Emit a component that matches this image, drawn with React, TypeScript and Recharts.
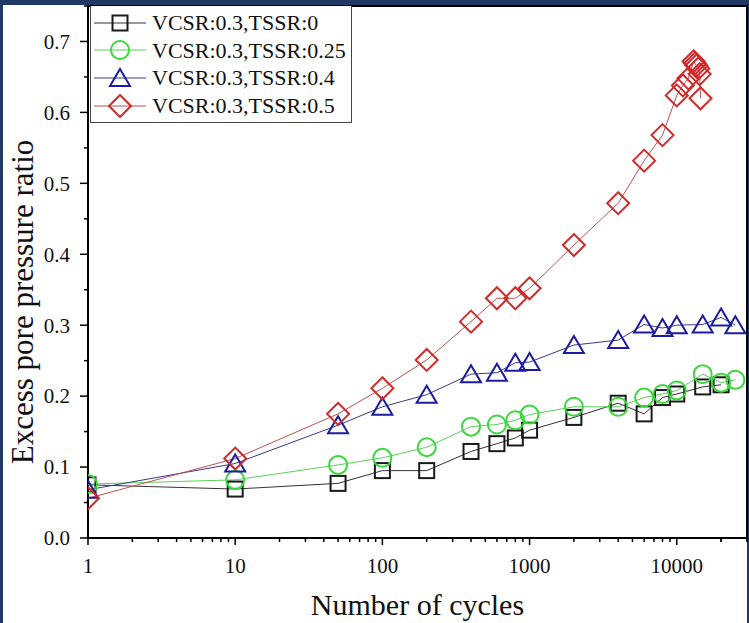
import { ComposedChart, Line, XAxis, YAxis, ReferenceArea } from "recharts"

// number of cycles / excess pore pressure ratio
const cyclesA = [1, 10, 50, 100, 200, 400, 600, 800, 1000, 2000, 4000, 6000, 8000, 10000, 15000, 20000]
const ratioA = [0.075, 0.069, 0.077, 0.095, 0.095, 0.122, 0.133, 0.141, 0.152, 0.17, 0.19, 0.175, 0.198, 0.203, 0.213, 0.216]

const cyclesB = [1, 10, 50, 100, 200, 400, 600, 800, 1000, 2000, 4000, 6000, 8000, 10000, 15000, 20000, 25000]
const ratioB = [0.076, 0.082, 0.103, 0.113, 0.128, 0.157, 0.16, 0.166, 0.174, 0.185, 0.185, 0.198, 0.203, 0.208, 0.231, 0.219, 0.223]

const cyclesC = [1, 10, 50, 100, 200, 400, 600, 800, 1000, 2000, 4000, 6000, 8000, 10000, 15000, 20000, 25000]
const ratioC = [0.068, 0.105, 0.159, 0.185, 0.202, 0.231, 0.233, 0.247, 0.248, 0.272, 0.279, 0.301, 0.296, 0.3, 0.301, 0.311, 0.3]

const cyclesD = [1, 10, 50, 100, 200, 400, 600, 800, 1000, 2000, 4000, 6000, 8000, 10000, 11000, 12000, 13000, 13300, 13600, 14000, 14300, 14500]
const ratioD = [0.056, 0.112, 0.175, 0.211, 0.251, 0.305, 0.338, 0.338, 0.352, 0.413, 0.472, 0.532, 0.568, 0.624, 0.638, 0.648, 0.672, 0.669, 0.666, 0.662, 0.654, 0.62]

const xMajor = [1, 10, 100, 1000, 10000]
const yMajor = [0, 0.1, 0.2, 0.3, 0.4, 0.5, 0.6, 0.7]
const yMinor = [0.05, 0.15, 0.25, 0.35, 0.45, 0.55, 0.65, 0.75]

const xTicks = xMajor.flatMap((d) => [1, 2, 3, 4, 5, 6, 7, 8, 9].map((k) => d * k)).concat([20000, 30000])
const yTicks = [...yMajor, ...yMinor].sort((a, b) => a - b)

const toRows = (cycles: number[], ratio: number[]) => cycles.map((n, i) => ({ n, r: ratio[i] }))

const FONT = "'Liberation Serif', 'Times New Roman', serif"

type Shape = "square" | "circle" | "triangle" | "diamond"

function Marker({ shape, cx, cy, color }: { shape: Shape; cx: number; cy: number; color: string }) {
  const common = { fill: "none", stroke: color, strokeWidth: 2 }
  if (shape === "square") return <rect x={cx - 7.5} y={cy - 7.5} width={15} height={15} {...common} />
  if (shape === "circle") return <circle cx={cx} cy={cy} r={9} {...common} />
  if (shape === "triangle")
    return <polygon points={`${cx},${cy - 9} ${cx + 10},${cy + 8} ${cx - 10},${cy + 8}`} {...common} />
  return <polygon points={`${cx},${cy - 11} ${cx + 11},${cy} ${cx},${cy + 11} ${cx - 11},${cy}`} {...common} />
}

const series = [
  { name: "VCSR:0.3,TSSR:0", data: toRows(cyclesA, ratioA), color: "#1a1a1a", line: "#333333", shape: "square" as Shape },
  { name: "VCSR:0.3,TSSR:0.25", data: toRows(cyclesB, ratioB), color: "#3ad83a", line: "#5ccf5c", shape: "circle" as Shape },
  { name: "VCSR:0.3,TSSR:0.4", data: toRows(cyclesC, ratioC), color: "#1c1ca0", line: "#3a3a8a", shape: "triangle" as Shape },
  { name: "VCSR:0.3,TSSR:0.5", data: toRows(cyclesD, ratioD), color: "#d02a2a", line: "#c05050", shape: "diamond" as Shape },
]

const XTick = (props: any) => {
  const { x, y, payload } = props
  const major = xMajor.includes(payload.value)
  return (
    <g>
      <line x1={x} x2={x} y1={y} y2={y + (major ? 7 : 4)} stroke="#000" strokeWidth={1.5} />
      {major && (
        <text x={x} y={y + 20} dy="0.71em" textAnchor="middle" fontFamily={FONT} fontSize={21} fill="#111">
          {payload.value}
        </text>
      )}
    </g>
  )
}

const YTick = (props: any) => {
  const { x, y, payload } = props
  const major = yMajor.some((v) => Math.abs(v - payload.value) < 1e-6)
  return (
    <g>
      <line x1={x} x2={x - (major ? 8 : 4)} y1={y} y2={y} stroke="#000" strokeWidth={1.5} />
      {major && (
        <text x={x - 18} y={y} dy="0.35em" textAnchor="end" fontFamily={FONT} fontSize={21} fill="#111">
          {payload.value.toFixed(1)}
        </text>
      )}
    </g>
  )
}

const XTitle = (props: any) => {
  const { x, y, width } = props.viewBox
  return (
    <text x={x + width / 2} y={y + 77} textAnchor="middle" fontFamily={FONT} fontSize={30} fill="#111">
      Number of cycles
    </text>
  )
}

const YTitle = (props: any) => {
  const { x, y, height } = props.viewBox
  const cx = x - 6
  const cy = y + height / 2 + 30
  return (
    <text x={cx} y={cy} transform={`rotate(-90 ${cx} ${cy})`} dy="0.35em" textAnchor="middle" fontFamily={FONT} fontSize={31} fill="#111">
      Excess pore pressure ratio
    </text>
  )
}

function LegendBox() {
  return (
    <div
      style={{
        position: "absolute",
        left: 90,
        top: 6,
        width: 262,
        height: 117,
        border: "1px solid #444",
        borderTop: "none",
        background: "#fff",
        fontFamily: FONT,
        fontSize: 22,
        color: "#111",
        boxSizing: "border-box",
        paddingTop: 3,
      }}
    >
      {series.map((s) => (
        <div key={s.name} style={{ display: "flex", alignItems: "center", height: 27.6, lineHeight: "27.6px" }}>
          <svg width={58} height={24} style={{ marginLeft: 2, flexShrink: 0 }}>
            <line x1={1} x2={53} y1={12} y2={12} stroke={s.line} strokeWidth={1} />
            <Marker shape={s.shape} cx={27} cy={12} color={s.color} />
          </svg>
          <span style={{ marginLeft: 1, whiteSpace: "nowrap" }}>{s.name}</span>
        </div>
      ))}
    </div>
  )
}

export default function App() {
  return (
    <div style={{ position: "absolute", left: 0, top: 0, width: 749, height: 623, background: "#1f3864" }}>
      <div style={{ position: "absolute", left: 3, top: 5, width: 744, height: 618, background: "#fff" }} />
      <div style={{ position: "absolute", left: 0, top: 0 }}>
        <ComposedChart width={749} height={623} margin={{ top: 6, right: 2, left: 28, bottom: 25 }}>
          <XAxis
            dataKey="n"
            type="number"
            scale="log"
            domain={[1, 30000]}
            allowDataOverflow
            ticks={xTicks}
            interval={0}
            tickLine={false}
            axisLine={false}
            tickSize={0}
            tickMargin={0}
            tick={<XTick />}
            height={60}
            label={<XTitle />}
          />
          <YAxis
            type="number"
            domain={[0, 0.75]}
            allowDataOverflow
            ticks={yTicks}
            interval={0}
            tickLine={false}
            axisLine={false}
            tickSize={0}
            tickMargin={0}
            tick={<YTick />}
            width={60}
            label={<YTitle />}
          />
          <ReferenceArea x1={1} x2={30000} y1={0} y2={0.75} fill="none" stroke="#000" strokeWidth={2} ifOverflow="visible" />
          {series.map((s) => (
            <Line
              key={s.name}
              data={s.data}
              dataKey="r"
              name={s.name}
              type="linear"
              stroke={s.line}
              strokeWidth={1}
              isAnimationActive={false}
              activeDot={false}
              dot={(p: any) => (
                <g key={`${s.name}-${p.index}`}>
                  {p.cx != null && p.cy != null && <Marker shape={s.shape} cx={p.cx} cy={p.cy} color={s.color} />}
                </g>
              )}
            />
          ))}
        </ComposedChart>
      </div>
      <LegendBox />
    </div>
  )
}
